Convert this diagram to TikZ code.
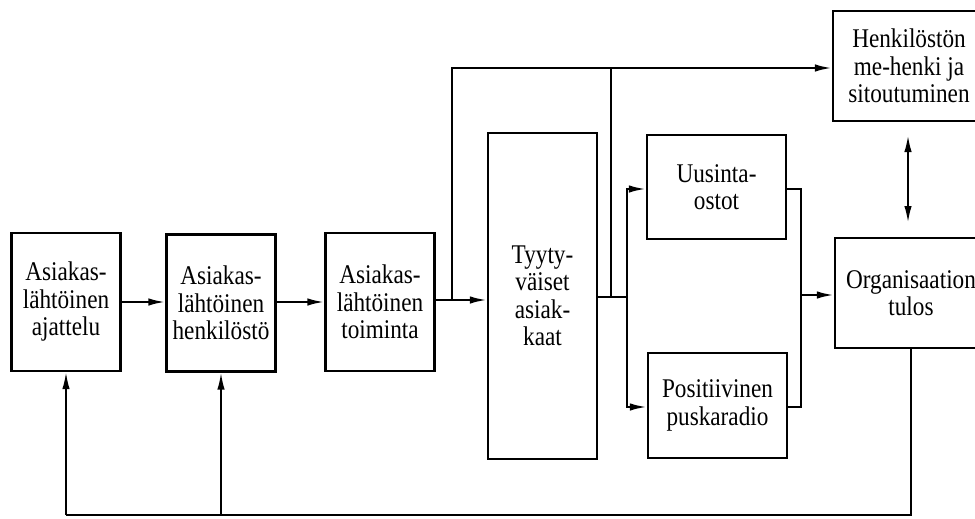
\documentclass[tikz,border=0pt]{standalone}
\usepackage{fontspec}
\setmainfont[FakeStretch=0.86]{Liberation Serif}
\usetikzlibrary{arrows.meta}
\begin{document}
\begin{tikzpicture}[x=1pt,y=-1pt,
  box/.style={draw, line width=2.4pt, align=center, inner sep=0pt,
    font=\fontsize{27}{27.5}\selectfont},
  conn/.style={line width=2.2pt},
  arr/.style={conn, -{Latex[length=17pt,width=7.5pt]}},
  darr/.style={conn, {Latex[length=17pt,width=7.5pt]}-{Latex[length=17pt,width=7.5pt]}},
  fb/.style={line width=1.8pt},
  fbarr/.style={fb, -{Latex[length=17pt,width=7.5pt]}}]
\useasboundingbox (0,0) rectangle (975,519);
\clip (0,0) rectangle (975,519);
\node[box, minimum width=109pt, minimum height=138pt] (b1) at (66,302) {Asiakas-\\lähtöinen\\ajattelu};
\node[box, minimum width=109pt, minimum height=137pt] (b2) at (221,303) {Asiakas-\\lähtöinen\\henkilöstö};
\node[box, minimum width=109pt, minimum height=138pt] (b3) at (380,302) {Asiakas-\\lähtöinen\\toiminta};
\node[box, minimum width=109pt, minimum height=326pt] (b4) at (542.5,296) {Tyyty-\\väiset\\asiak-\\kaat};
\node[box, minimum width=139pt, minimum height=104pt] (b5) at (716.5,187) {Uusinta-\\ostot};
\node[box, minimum width=139pt, minimum height=105pt] (b6) at (717.5,405.5) {Positiivinen\\puskaradio};
\node[box, minimum width=152pt, minimum height=110pt] (b7) at (909,66) {Henkilöstön\\me-henki ja\\sitoutuminen};
\node[box, minimum width=152pt, minimum height=110pt] (b8) at (911,293) {Organisaation\\tulos};
% main chain
\draw[arr] (b1.east |- 0,302) -- (b2.west |- 0,302);
\draw[arr] (b2.east |- 0,302) -- (b3.west |- 0,302);
\draw[arr] (b3.east |- 0,300) -- (b4.west |- 0,300);
% branch to Henkilöstön
\coordinate (t1) at (452,300);
\coordinate (t2) at (452,68);
\draw[arr] (t1) -- (t2) -- (t2 -| b7.west);
% output of Tyytyväiset
\coordinate (s1) at (627,297);
\coordinate (j1) at (611,68);
\draw[conn] (b4.east |- 0,297) -- (s1);
\draw[conn] (j1) -- (j1 |- s1);
\draw[arr] (s1) |- (b5.west |- 0,189);
\draw[arr] (s1) |- (b6.west |- 0,407);
% into Organisaation tulos
\coordinate (m1) at (801,295);
\draw[conn] (b5.east |- 0,189) -| (m1);
\draw[conn] (b6.east |- 0,407) -| (m1);
\draw[arr] (m1) -- (m1 -| b8.west);
% double arrow
\draw[darr] (908,135) -- (908,223);
% feedback
\coordinate (f1) at (911,515);
\coordinate (f2) at (b1.south |- f1);
\coordinate (f3) at (b2.south |- f1);
\draw[fb] (b8.south) -- (f1) -- (f2);
\draw[fbarr] (f2) -- (b1.south);
\draw[fbarr] (f3) -- (b2.south);
\end{tikzpicture}
\end{document}
